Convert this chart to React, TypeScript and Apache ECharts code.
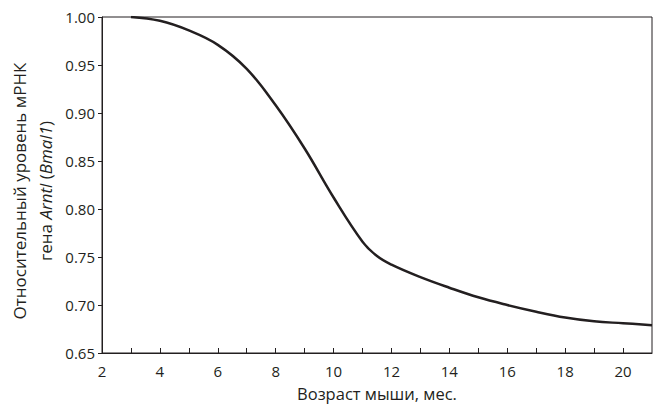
import React, { useEffect, useRef } from "react";
import * as echarts from "echarts";

const ages = [3, 4, 5, 6, 7, 8, 9, 10, 11, 11.5, 12, 13, 14, 15, 16, 17, 18, 19, 20, 21];
const levels = [1.0, 0.996, 0.986, 0.971, 0.946, 0.908, 0.863, 0.812, 0.766, 0.751, 0.742, 0.729, 0.718, 0.708, 0.7, 0.693, 0.687, 0.683, 0.681, 0.679];
const xLabel = "Возраст мыши, мес.";
const yLine1 = "Относительный уровень мРНК";

const FONT = "Open Sans";
const INK = "#231f20";

export default function App() {
  const ref = useRef<HTMLDivElement>(null);
  useEffect(() => {
    if (!ref.current) return;
    const chart = echarts.init(ref.current, undefined, { renderer: "svg" });
    chart.setOption({
      animation: false,
      backgroundColor: "#ffffff",
      textStyle: { fontFamily: FONT },
      grid: {
        left: 102,
        right: 4,
        top: 17,
        bottom: 53,
        show: true,
        borderColor: INK,
        borderWidth: 1,
      },
      xAxis: {
        type: "value",
        min: 2,
        max: 21,
        interval: 1,
        name: xLabel,
        nameLocation: "middle",
        nameGap: 32,
        nameTextStyle: { fontSize: 16.5, color: INK, fontFamily: FONT },
        axisLine: { show: true, lineStyle: { color: INK, width: 1 } },
        axisTick: { show: true, inside: true, length: 5, lineStyle: { color: INK } },
        axisLabel: {
          fontSize: 15,
          color: INK,
          margin: 10,
          showMaxLabel: false,
          formatter: (v: number) => (v % 2 === 0 ? String(v) : ""),
        },
        splitLine: { show: false },
      },
      yAxis: {
        type: "value",
        min: 0.65,
        max: 1.0,
        interval: 0.05,
        name: `{n|${yLine1}}\n{n|гена }{i|Arntl}{n| (}{i|Bmal1}{n|)}`,
        nameLocation: "middle",
        nameRotate: 90,
        nameGap: 43,
        nameTextStyle: {
          padding: [0, 12, 0, 0],
          rich: {
            n: { fontSize: 17, color: INK, fontFamily: FONT, lineHeight: 26 },
            i: { fontSize: 17, color: INK, fontFamily: FONT, fontStyle: "italic", lineHeight: 26 },
          },
        },
        axisLine: { show: true, lineStyle: { color: INK, width: 1 } },
        axisTick: { show: true, inside: false, length: 4, lineStyle: { color: INK } },
        axisLabel: {
          fontSize: 15,
          color: INK,
          margin: 7,
          formatter: (v: number) => v.toFixed(2),
        },
        splitLine: { show: false },
      },
      series: [
        {
          type: "line",
          data: ages.map((a, i) => [a, levels[i]]),
          smooth: 0.4,
          showSymbol: false,
          lineStyle: { color: INK, width: 2.5 },
        },
      ],
    });
    return () => chart.dispose();
  }, []);
  return <div ref={ref} style={{ position: "fixed", left: 0, top: 0, width: 656, height: 407 }} />;
}
